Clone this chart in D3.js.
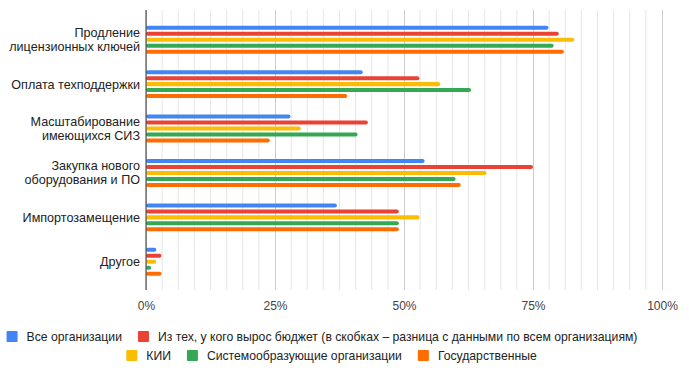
<!DOCTYPE html>
<html>
<head>
<meta charset="utf-8">
<script src="https://cdn.jsdelivr.net/npm/d3@7"></script>
<style>
  body { margin: 0; background: #fff; }
  text { font-family: "Liberation Sans", Arial, sans-serif; }
</style>
</head>
<body>
<div id="chart"></div>
<script>
// Categories (y axis), each label split into lines
const categories = [
    ["Продление", "лицензионных ключей"],
    ["Оплата техподдержки"],
    ["Масштабирование", "имеющихся СИЗ"],
    ["Закупка нового", "оборудования и ПО"],
    ["Импортозамещение"],
    ["Другое"]
];

const seriesNames = [
    "Все организации",
    "Из тех, у кого вырос бюджет (в скобках – разница с данными по всем организациям)",
    "КИИ",
    "Системообразующие организации",
    "Государственные"
];

const seriesColors = ["#4285F4", "#EA4335", "#FBBC04", "#34A853", "#FF6D01"];

// Values in percent, one array per series, in category order
const allOrgs     = [78, 42, 28, 54, 37, 2];
const budgetGrown = [80, 53, 43, 75, 49, 3];
const kii         = [83, 57, 30, 66, 53, 2];
const systemOrgs  = [79, 63, 41, 60, 49, 1];
const stateOrgs   = [81, 39, 24, 61, 49, 3];

const seriesValues = [allOrgs, budgetGrown, kii, systemOrgs, stateOrgs];

const tickValues = [0, 25, 50, 75, 100];

const width = 689, height = 370;

const svg = d3.select("#chart")
    .append("svg")
    .attr("width", width)
    .attr("height", height);

// Scales
const x = d3.scaleLinear()
    .domain([0, 100])
    .range([146, 662]);

const y = d3.scaleBand()
    .domain(d3.range(categories.length))
    .range([17.5, 284]);

const inner = d3.scaleBand()
    .domain(d3.range(seriesNames.length))
    .range([-15, 15])
    .paddingInner(0.33)
    .paddingOuter(0.17);

const plotTop = 10, plotBottom = 290;

// Minor gridlines
svg.append("g")
    .selectAll("line")
    .data(d3.range(0, 100.001, 100 / 32).filter((d, i) => i % 8 !== 0))
    .enter().append("line")
    .attr("x1", d => x(d)).attr("x2", d => x(d))
    .attr("y1", plotTop).attr("y2", plotBottom)
    .attr("stroke", "#e6e6e6")
    .attr("stroke-width", 1);

// Major gridlines + tick labels
const xAxis = svg.append("g")
    .attr("transform", `translate(0, ${plotBottom})`)
    .call(d3.axisBottom(x)
        .tickValues(tickValues)
        .tickSize(-(plotBottom - plotTop))
        .tickPadding(11)
        .tickFormat(d => d + "%"));

xAxis.select(".domain").remove();
xAxis.selectAll(".tick line").attr("stroke", "#cccccc");
xAxis.selectAll(".tick text")
    .attr("fill", "#444")
    .style("font-size", "12px")
    .style("font-family", "'Liberation Sans', Arial, sans-serif");

// Bars
const groups = svg.append("g")
    .selectAll("g")
    .data(categories)
    .enter().append("g")
    .attr("transform", (d, i) => `translate(0, ${y(i) + y.bandwidth() / 2})`);

groups.selectAll("rect")
    .data((d, ci) => seriesValues.map((vals, si) => ({ si, v: vals[ci] })))
    .enter().append("rect")
    .attr("x", x(0))
    .attr("y", d => inner(d.si))
    .attr("width", d => x(d.v) - x(0))
    .attr("height", inner.bandwidth())
    .attr("rx", inner.bandwidth() / 2)
    .attr("fill", d => seriesColors[d.si]);

// Baseline
svg.append("line")
    .attr("x1", x(0)).attr("x2", x(0))
    .attr("y1", plotTop).attr("y2", plotBottom)
    .attr("stroke", "#333")
    .attr("stroke-width", 1);

// Category labels
groups.append("text")
    .attr("x", x(0) - 6)
    .attr("text-anchor", "end")
    .attr("fill", "#222")
    .style("font-size", "12.6px")
    .each(function(d) {
        const t = d3.select(this);
        d.forEach((line, i) => {
            t.append("tspan")
                .attr("x", x(0) - 6)
                .attr("y", (i - (d.length - 1) / 2) * 14 + 4.5)
                .text(line);
        });
    });

// Legend: two centred rows
const legendRows = [[0, 1], [2, 3, 4]];
const rowY = [336.5, 355.5];
const rowCenter = [322, 331.5];

legendRows.forEach((row, ri) => {
    const g = svg.append("g");
    let cx = 0;
    row.forEach(si => {
        g.append("rect")
            .attr("x", cx)
            .attr("y", rowY[ri] - 5.5)
            .attr("width", 11)
            .attr("height", 11)
            .attr("rx", 1)
            .attr("fill", seriesColors[si]);
        const t = g.append("text")
            .attr("x", cx + 20)
            .attr("y", rowY[ri] + 4.5)
            .attr("fill", "#222")
            .style("font-size", "12.2px")
            .text(seriesNames[si]);
        cx += 20 + t.node().getComputedTextLength() + 16;
    });
    const total = cx - 16;
    g.attr("transform", `translate(${rowCenter[ri] - total / 2}, 0)`);
});
</script>
</body>
</html>
